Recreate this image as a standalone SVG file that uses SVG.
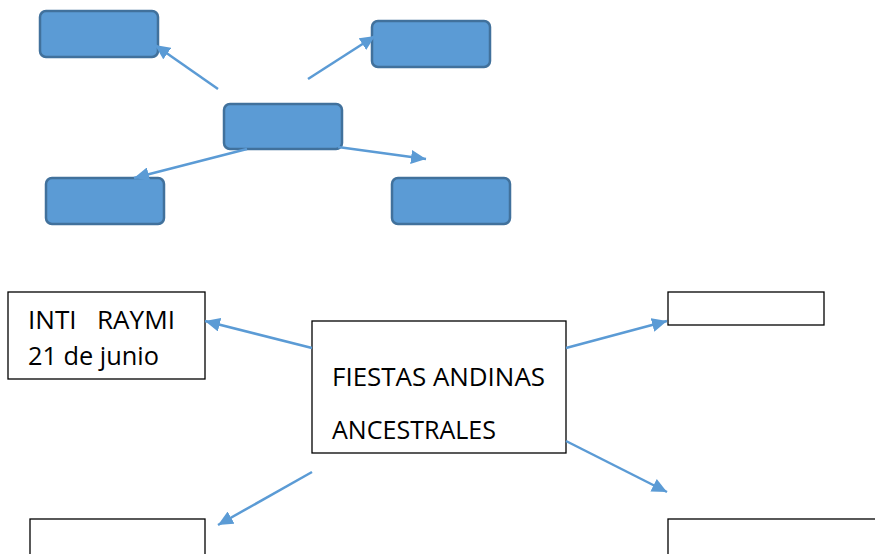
<svg xmlns="http://www.w3.org/2000/svg" width="875" height="554" viewBox="0 0 875 554">
<style>
.bb{fill:#5B9BD5;stroke:#41719C;stroke-width:2.5}
.wb{fill:#FFFFFF;stroke:#000000;stroke-width:1.3}
.cn{stroke:#5B9BD5;stroke-width:2.5;fill:none}
.tx{font-family:"Open Sans","Noto Sans",sans-serif;font-size:25px;fill:#000000}
</style>
<defs>
<marker id="ah" markerUnits="userSpaceOnUse" markerWidth="16" markerHeight="14" refX="15" refY="7" orient="auto">
<path d="M0,0 L15,7 L0,14 z" fill="#5B9BD5"/>
</marker>
</defs>
<rect width="875" height="554" fill="#FFFFFF"/>
<g id="top-left"><rect class="bb" x="40" y="11" width="118" height="46" rx="6"/></g>
<g id="top-right"><rect class="bb" x="372" y="21" width="118" height="46" rx="6"/></g>
<g id="top-center"><rect class="bb" x="224" y="104" width="118" height="45" rx="6"/></g>
<g id="bottom-left-blue"><rect class="bb" x="46" y="178" width="118" height="46" rx="6"/></g>
<g id="bottom-right-blue"><rect class="bb" x="392" y="178" width="118" height="46" rx="6"/></g>
<g id="inti-raymi">
<rect class="wb" x="8" y="292" width="197" height="87"/>
<text class="tx" x="28" y="329" xml:space="preserve" textLength="147" lengthAdjust="spacingAndGlyphs">INTI   RAYMI</text>
<text class="tx" x="28" y="365" textLength="131" lengthAdjust="spacingAndGlyphs">21 de junio</text>
</g>
<g id="fiestas">
<rect class="wb" x="312" y="321" width="254" height="132"/>
<text class="tx" x="332" y="386" textLength="213" lengthAdjust="spacingAndGlyphs">FIESTAS ANDINAS</text>
<text class="tx" x="332" y="439" textLength="164" lengthAdjust="spacingAndGlyphs">ANCESTRALES</text>
</g>
<g id="right-top-box"><rect class="wb" x="668" y="292" width="156" height="33"/></g>
<g id="right-bottom-box"><rect class="wb" x="668" y="519" width="220" height="60"/></g>
<g id="left-bottom-box"><rect class="wb" x="30" y="519" width="175" height="60"/></g>
<g id="connectors">
<line class="cn" x1="218" y1="89" x2="155" y2="45" marker-end="url(#ah)"/>
<line class="cn" x1="308" y1="79" x2="375" y2="36" marker-end="url(#ah)"/>
<line class="cn" x1="247" y1="149" x2="134" y2="178" marker-end="url(#ah)"/>
<line class="cn" x1="338" y1="147" x2="426" y2="159" marker-end="url(#ah)"/>
<line class="cn" x1="312" y1="348" x2="205" y2="321" marker-end="url(#ah)"/>
<line class="cn" x1="566" y1="348" x2="667" y2="321" marker-end="url(#ah)"/>
<line class="cn" x1="566" y1="441" x2="667" y2="492" marker-end="url(#ah)"/>
<line class="cn" x1="312" y1="472" x2="218" y2="525" marker-end="url(#ah)"/>
</g>
</svg>
